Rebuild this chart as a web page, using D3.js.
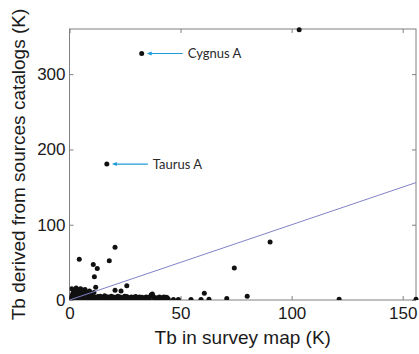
<!DOCTYPE html>
<html><head><meta charset="utf-8">
<script src="https://cdn.jsdelivr.net/npm/d3@7"></script>
<style>
body{margin:0;background:#fff;}
svg{display:block;}
</style></head>
<body>
<svg id="c" width="419" height="354"></svg>
<script>
// ---- data ----
const xTicks = [0, 50, 100, 150];
const yTicks = [0, 100, 200, 300];
const xDomain = [0, 156];
const yDomain = [0, 360];
const xLabel = "Tb in survey map (K)";
const yLabel = "Tb derived from sources catalogs (K)";
// survey map Tb (x) and catalog-derived Tb (y)
const pointsX = [
  0.3,0.5,0.8,1.0,1.2,1.5,1.8,2.0,2.2,2.5,2.8,3.0,3.2,3.5,3.8,4.0,4.2,4.5,4.8,5.0,5.2,5.5,5.8,6.0,6.2,6.5,6.8,7.0,7.3,7.6,8.0,8.3,8.6,9.0,9.3,9.7,10.0,10.4,10.8,11.2,11.6,12.0,
  12.5,13.0,13.5,14.0,14.5,15.0,15.5,16.0,16.5,17.0,17.5,18.0,18.5,19.0,19.5,20.0,20.5,21.0,21.5,22.0,22.5,23.0,23.5,24.0,24.5,25.0,25.5,26.0,26.5,27.0,27.5,28.0,28.5,29.0,29.5,30.0,31.0,32.0,33.0,34.0,35.0,36.0,36.8,37.3,38.0,39.0,40.0,41.0,42.0,43.0,44.0,44.5,46.8,49.0,54.7,59.2,60.7,62.8,70.8,80.0,121.4,156.0,
  12.8,13.8,14.8,15.8,16.8,17.8,18.8,19.8,20.8,21.8,22.8,23.8,24.8,25.8,26.8,27.8,28.8,29.8,30.5,31.5,32.5,33.5,34.5,35.5,37.8,39.5,40.5,41.5,42.5,43.5,
  1.0,2.0,3.0,4.0,5.0,6.0,7.0,8.0,9.0,10.0,11.0,
  4.4,20.5,17.9,10.7,12.5,11.2,11.8,20.5,23.2,25.8,74.2,90.3,103.4,16.8,32.5
];
const pointsY = [
  0.5,2,4,1,6,9,3,12,0.5,7,13,2,10,5,14,1,8,12,3,6,10,13,1,4,8,11,2,6,9,0.5,4,7,2,5,1,3,6,2,0.5,4,2,1,
  3,0.5,2,4,1,2.5,0.5,3,1,2,4,0.5,2,1,3,0.5,2,1,3,0.5,1.5,2.5,0.5,1.5,3,0.5,2,1,0.5,2,1,0.5,1.5,0.5,2,1,0.5,1.5,0.5,1,0.5,2,7,8,3,1,0.5,1,0.5,1.5,3,1,0.5,0.5,0.5,0.5,9,1,2,5,1,1,
  4.5,5,3.5,5.5,4,3,5,4,3.5,5,4,3,5,4.5,3,4,3.5,4.5,3,4,3.5,3,4,3.5,4.5,3,4,3,4,3.5,
  15,11,16,12,15,13,14,10,12,8,10,
  54,70,52,47,42,31,17,13,12,19,42.5,77,359,180.5,327.5
];
const fitX = [0, 156];
const fitY = [0, 156];
const annNames = ["Cygnus A", "Taurus A"];
const annX = [32.5, 16.8];
const annY = [327.5, 180.5];

// ---- layout ----
const svg = d3.select("#c");
const L = 69.5, R = 416, T = 29, B = 300;
const x = d3.scaleLinear().domain(xDomain).range([L, R]);
const y = d3.scaleLinear().domain(yDomain).range([B, T]);
const axisColor = "#808080";
const font = "'Liberation Sans', Arial, Helvetica, sans-serif";
const arrowColor = "#1e9bd7";

const defs = svg.append("defs");
defs.append("clipPath").attr("id","clip").append("rect")
  .attr("x", L).attr("y", T - 3).attr("width", R - L + 3).attr("height", B - T + 3);

// frame
svg.append("rect").attr("x", L).attr("y", T).attr("width", R - L).attr("height", B - T)
  .attr("fill","none").attr("stroke", axisColor).attr("stroke-width", 1);

function styleAxis(g, labels){
  g.select(".domain").remove();
  g.selectAll(".tick line").attr("stroke", axisColor);
  g.selectAll(".tick text").attr("fill","#1a1a1a").style("font-family", font).style("font-size","17px");
  if(!labels) g.selectAll(".tick text").remove();
}
const gx = svg.append("g").attr("transform",`translate(0,${B})`)
  .call(d3.axisBottom(x).tickValues(xTicks).tickSizeInner(-4).tickSizeOuter(0).tickPadding(7).tickFormat(d3.format("d")));
styleAxis(gx, true);
const gxt = svg.append("g").attr("transform",`translate(0,${T})`)
  .call(d3.axisTop(x).tickValues(xTicks).tickSizeInner(-4).tickSizeOuter(0));
styleAxis(gxt, false);
const gy = svg.append("g").attr("transform",`translate(${L},0)`)
  .call(d3.axisLeft(y).tickValues(yTicks).tickSizeInner(-4).tickSizeOuter(0).tickPadding(4).tickFormat(d3.format("d")));
styleAxis(gy, true);
const gyr = svg.append("g").attr("transform",`translate(${R},0)`)
  .call(d3.axisRight(y).tickValues(yTicks).tickSizeInner(-4).tickSizeOuter(0));
styleAxis(gyr, false);

// points
const pts = pointsX.map((v,i)=>({x:v, y:pointsY[i]}));
svg.append("g").attr("clip-path","url(#clip)")
  .selectAll("circle").data(pts).join("circle")
  .attr("cx", d=>x(d.x)).attr("cy", d=>y(d.y)).attr("r", 2.5).attr("fill","#111");

// fit line
svg.append("line")
  .attr("x1", x(fitX[0])).attr("y1", y(fitY[0]))
  .attr("x2", x(fitX[1])).attr("y2", y(fitY[1]))
  .attr("stroke","#8282c8").attr("stroke-width",1);

// annotations
annNames.forEach((n,i)=>{
  const px = x(annX[i]), py = y(annY[i]);
  svg.append("line").attr("x1", px + 8).attr("y1", py).attr("x2", px + 41).attr("y2", py)
    .attr("stroke", arrowColor).attr("stroke-width",1.1);
  svg.append("path")
    .attr("d", `M${px+5},${py} L${px+10},${py-2} L${px+10},${py+2} Z`)
    .attr("fill", arrowColor);
  svg.append("text").attr("x", px + 46).attr("y", py).attr("dy","0.35em")
    .style("font-family","Lato, 'Open Sans', sans-serif").style("font-size","13px")
    .attr("fill","#2a2a2a").text(n);
});

// axis labels
svg.append("text").attr("x", (L + R) / 2).attr("y", 344).attr("text-anchor","middle")
  .style("font-family", font).style("font-size","19px").attr("fill","#1a1a1a").text(xLabel);
svg.append("text").attr("transform",`translate(25,${(T + B) / 2}) rotate(-90)`).attr("text-anchor","middle")
  .style("font-family", font).style("font-size","19px").attr("fill","#1a1a1a").text(yLabel);
</script>
</body></html>
